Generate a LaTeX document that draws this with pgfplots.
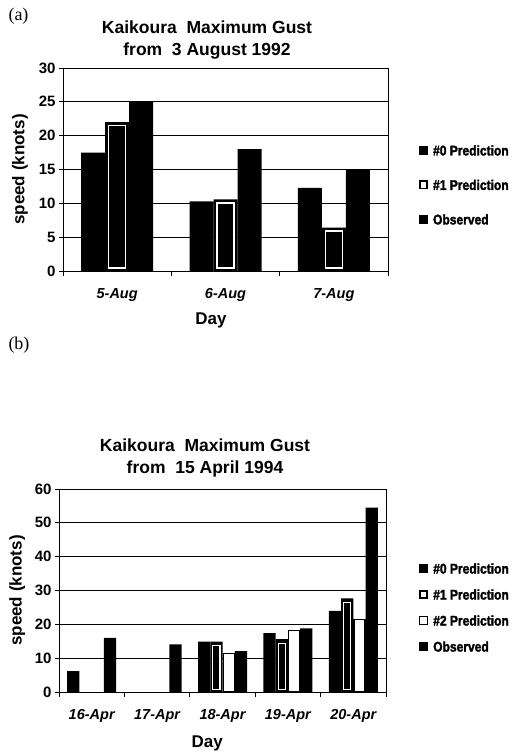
\documentclass[border=0pt]{standalone}
\usepackage{pgfplots}
\pgfplotsset{compat=1.18}
\usepackage{pgfplotstable}
\usepackage{fontspec}
\setmainfont{Liberation Sans}
\newfontfamily\serifpanel{Liberation Serif}
\newfontfamily\legfont[UprightFont={* Bold}, FakeStretch=0.86, FakeBold=2]{Liberation Sans}

\pgfplotstableread{
x p0 p1 obs
0 17.5 22.0 25.1
1 10.3 10.6 18.0
2 12.3 6.4 15.0
}\tablea
\pgfplotstableread{
x p0 p1 p2 obs
0 6.2 nan nan 16.0
1 nan nan nan 14.1
2 14.9 14.9 11.4 12.1
3 17.4 15.6 18.1 18.8
4 24.0 27.7 21.5 54.5
}\tableb

\pgfplotsset{
  gust/.style={
    scale only axis,
    axis line style={black, line width=0.9pt},
    ymin=0,
    tick align=outside,
    xtick pos=bottom, ytick pos=left,
    ymajorgrids, major grid style={black, line width=0.9pt},
    major tick length=4pt, minor tick length=5pt,
    major x tick style={draw=none},
    minor x tick style={black, line width=0.9pt},
    y tick style={black, line width=0.9pt},
    /pgf/number format/assume math mode=true,
    yticklabel style={font=\bfseries\fontsize{15}{15}\selectfont},
    xticklabel style={font=\bfseries\itshape\fontsize{14.5}{14.5}\selectfont, yshift=-10pt},
    xlabel={Day},
    ylabel={speed (knots)},
    label style={font=\bfseries\fontsize{17}{17}\selectfont},
    legend style={draw=none, fill=none, inner sep=0pt,
      font=\legfont\fontsize{14}{14}\selectfont,
      nodes={inner sep=0pt, text height=10pt, text depth=0pt}},
    legend cell align=left,
  },
  blackbox/.style={legend image code/.code={\fill[black] (0pt,-4.5pt) rectangle (9pt,4.5pt); \path[draw=none, fill=none] (0pt,0pt) -- (14pt,0pt);}},
  onebox/.style={legend image code/.code={\draw[black, line width=1.8pt, fill=white] (0.9pt,-3.6pt) rectangle (8.1pt,3.6pt); \path[draw=none, fill=none] (0pt,0pt) -- (14pt,0pt);}},
  twobox/.style={legend image code/.code={\draw[black, line width=1.2pt, fill=white] (0.6pt,-3.9pt) rectangle (8.4pt,3.9pt); \path[draw=none, fill=none] (0pt,0pt) -- (14pt,0pt);}},
}

\begin{document}
\begin{tikzpicture}
\useasboundingbox (0pt,0pt) rectangle (512pt,754pt);

% ---------- (a) ----------
\begin{axis}[gust,
  at={(63pt,483pt)}, anchor=south west,
  width=325pt, height=203pt,
  xmin=-0.5, xmax=2.5, ymax=30,
  ytick={0,5,...,30},
  xtick={0,1,2}, xticklabels={5-Aug,6-Aug,7-Aug},
  minor xtick={-0.5,0.5,1.5,2.5},
  ylabel style={at={(axis description cs:-0.132,0.5)}, anchor=center},
  xlabel style={at={(axis description cs:0.455,-0.245)}, anchor=center},
  legend style={at={(axis description cs:1.095,0.424)}, anchor=west,
    row sep=24.5pt},
]
\addplot[ybar, bar width=24pt, bar shift=-24pt, fill=black, draw=none, blackbox]
  table[x=x, y=p0] {\tablea};
\addlegendentry{\#0 Prediction}
\addplot[ybar, bar width=24pt, bar shift=0pt, fill=black, draw=none, onebox]
  table[x=x, y=p1] {\tablea};
\addlegendentry{\#1 Prediction}
\addplot[ybar, bar width=24pt, bar shift=24pt, fill=black, draw=none, blackbox]
  table[x=x, y=obs] {\tablea};
\addlegendentry{Observed}
\addplot[ybar, bar width=17pt, bar shift=0pt, fill=none, draw=white, line width=1.5pt, yshift=3pt, forget plot]
  table[x=x, y expr=\thisrow{p1}-0.96] {\tablea};
\end{axis}

% ---------- (b) ----------
\begin{axis}[gust,
  at={(59pt,62pt)}, anchor=south west,
  width=327pt, height=203pt,
  xmin=-0.5, xmax=4.5, ymax=60,
  ytick={0,10,...,60},
  xtick={0,1,2,3,4}, xticklabels={16-Apr,17-Apr,18-Apr,19-Apr,20-Apr},
  minor xtick={-0.5,0.5,1.5,2.5,3.5,4.5},
  ylabel style={at={(axis description cs:-0.128,0.5)}, anchor=center},
  xlabel style={at={(axis description cs:0.453,-0.251)}, anchor=center},
  legend style={at={(axis description cs:1.101,0.416)}, anchor=west,
    row sep=16pt},
]
\addplot[ybar, bar width=12.25pt, bar shift=-18.375pt, fill=black, draw=none, blackbox]
  table[x=x, y=p0] {\tableb};
\addlegendentry{\#0 Prediction}
\addplot[ybar, bar width=12.25pt, bar shift=-6.125pt, fill=black, draw=none, onebox]
  table[x=x, y=p1] {\tableb};
\addlegendentry{\#1 Prediction}
\addplot[ybar, bar width=11pt, bar shift=6.125pt, fill=white, draw=black, line width=1.2pt, twobox]
  table[x=x, y=p2] {\tableb};
\addlegendentry{\#2 Prediction}
\addplot[ybar, bar width=12.25pt, bar shift=18.375pt, fill=black, draw=none, blackbox]
  table[x=x, y=obs] {\tableb};
\addlegendentry{Observed}
\addplot[ybar, bar width=7.25pt, bar shift=-6.125pt, fill=none, draw=white, line width=1.2pt, yshift=2.5pt, forget plot]
  table[x=x, y expr=\thisrow{p1}-1.92] {\tableb};
\end{axis}

% titles and panel labels
\node[font=\bfseries\fontsize{17.5}{22}\selectfont, align=center] at (207pt,714pt)
  {Kaikoura\ \ Maximum Gust\\from\ \ 3 August 1992};
\node[font=\bfseries\fontsize{17.5}{22}\selectfont, align=center] at (205pt,296pt)
  {Kaikoura\ \ Maximum Gust\\from\ \ 15 April 1994};
\node[font=\serifpanel\fontsize{18}{18}\selectfont] at (18.5pt,737.5pt) {(a)};
\node[font=\serifpanel\fontsize{18}{18}\selectfont] at (19pt,409pt) {(b)};
\end{tikzpicture}
\end{document}
